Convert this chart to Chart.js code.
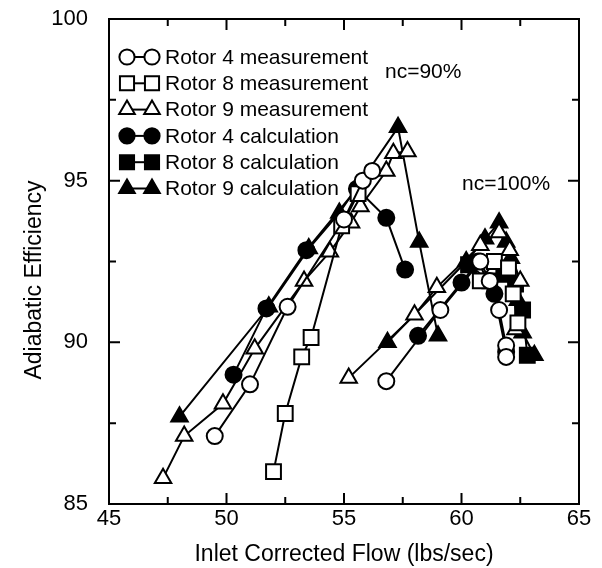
<!DOCTYPE html>
<html>
<head>
<meta charset="utf-8">
<script src="https://cdn.jsdelivr.net/npm/chart.js@4/dist/chart.umd.min.js"></script>
<style>
  html, body { margin: 0; padding: 0; background: #fff; }
  #wrap { width: 602px; height: 568px; }
</style>
</head>
<body>
<div id="wrap"><canvas id="chart" width="602" height="568"></canvas></div>
<script>
// [flow, efficiency] pairs, one array per rotor and speed line
var r4Meas90 = [[49.5, 87.1], [51.0, 88.7], [52.6, 91.1], [55.0, 93.8], [55.8, 95.0], [56.2, 95.3]];
var r4Meas100 = [[56.8, 88.8], [59.1, 91.0], [60.8, 92.5], [61.2, 91.9], [61.6, 91.0], [61.9, 89.9], [61.9, 89.55]];
var r8Meas90 = [[52.0, 86.0], [52.5, 87.8], [53.2, 89.55], [53.6, 90.15], [54.9, 93.6], [55.6, 94.6]];
var r8Meas100 = [[60.8, 91.9], [61.4, 92.5], [62.0, 92.3], [62.2, 91.5], [62.4, 90.6]];
var r9Meas90 = [[47.3, 85.8], [48.2, 87.1], [49.85, 88.1], [51.2, 89.8], [53.3, 91.9], [54.4, 92.8], [55.3, 93.7], [55.7, 94.2], [56.8, 95.3], [57.1, 95.85], [57.7, 95.9]];
var r9Meas100 = [[55.2, 88.9], [58.0, 90.85], [58.95, 91.7], [60.8, 93.0], [61.6, 93.4], [62.05, 92.85], [62.5, 91.9], [62.3, 90.4]];
var r4Calc90 = [[50.3, 89.0], [51.7, 91.05], [53.4, 92.85], [55.55, 94.75], [56.8, 93.85], [57.6, 92.25]];
var r4Calc100 = [[58.15, 90.2], [60.0, 91.85], [60.7, 92.5], [61.4, 91.5], [61.9, 89.7]];
var r8Calc100 = [[60.3, 92.4], [61.2, 91.9], [61.8, 92.1], [62.3, 91.8], [62.6, 91.0], [62.8, 89.6]];
var r9Calc90 = [[48.0, 87.7], [51.8, 91.1], [53.5, 92.9], [54.8, 94.0], [57.3, 96.65], [58.2, 93.1], [59.0, 90.2]];
var r9Calc100 = [[56.85, 90.0], [60.2, 92.5], [61.0, 93.2], [61.6, 93.7], [61.9, 93.1], [62.1, 92.6], [62.4, 91.3], [62.6, 90.3], [63.1, 89.6]];

var legendNames = ['Rotor 4 measurement', 'Rotor 8 measurement', 'Rotor 9 measurement',
  'Rotor 4 calculation', 'Rotor 8 calculation', 'Rotor 9 calculation'];
var styles = [
  { pointStyle: 'circle', fill: '#fff', radius: 8 },
  { pointStyle: 'rect', fill: '#fff', radius: 10.5 },
  { pointStyle: 'triangle', fill: '#fff', radius: 9.5 },
  { pointStyle: 'circle', fill: '#000', radius: 8 },
  { pointStyle: 'rect', fill: '#000', radius: 10.5 },
  { pointStyle: 'triangle', fill: '#000', radius: 9.5 }
];
var series = [
  [0, r4Meas90], [0, r4Meas100], [1, r8Meas90], [1, r8Meas100], [2, r9Meas90], [2, r9Meas100],
  [3, r4Calc90], [3, r4Calc100], [4, r8Calc100], [5, r9Calc90], [5, r9Calc100]
];

var FONT = '"Liberation Sans", Arial, sans-serif';

function toPts(arr) {
  return arr.map(function (p) { return { x: p[0], y: p[1] }; });
}

var datasets = series.map(function (s) {
  var st = styles[s[0]];
  return {
    label: legendNames[s[0]],
    data: toPts(s[1]),
    showLine: true,
    borderColor: '#000',
    borderWidth: 2,
    pointStyle: st.pointStyle,
    pointRadius: st.radius,
    pointBackgroundColor: st.fill,
    pointBorderColor: '#000',
    pointBorderWidth: 2
  };
});

// frame, inward ticks, titles, legend and speed labels
var decor = {
  id: 'decor',
  afterDraw: function (chart) {
    var c = chart.ctx, a = chart.chartArea;
    var xs = chart.scales.x, ys = chart.scales.y;
    c.save();
    c.strokeStyle = '#000';
    c.lineWidth = 2;
    c.strokeRect(a.left, a.top, a.right - a.left, a.bottom - a.top);
    var v, len;
    for (v = 45; v <= 65; v += 2.5) {
      var px = xs.getPixelForValue(v);
      len = (v % 5 === 0) ? 11 : 7;
      c.beginPath();
      c.moveTo(px, a.bottom); c.lineTo(px, a.bottom - len);
      c.moveTo(px, a.top); c.lineTo(px, a.top + len);
      c.stroke();
    }
    for (v = 85; v <= 100; v += 2.5) {
      var py = ys.getPixelForValue(v);
      len = (v % 5 === 0) ? 11 : 7;
      c.beginPath();
      c.moveTo(a.left, py); c.lineTo(a.left + len, py);
      c.moveTo(a.right, py); c.lineTo(a.right - len, py);
      c.stroke();
    }
    c.fillStyle = '#000';
    c.textBaseline = 'middle';
    c.textAlign = 'center';
    c.font = '23px ' + FONT;
    c.fillText('Inlet Corrected Flow (lbs/sec)', (a.left + a.right) / 2, 555);
    c.save();
    c.translate(35, 280);
    c.rotate(-Math.PI / 2);
    c.fillText('Adiabatic Efficiency', 0, 0);
    c.restore();

    // legend inside the plot
    var lx1 = a.left + 18, lx2 = a.left + 43, tx = a.left + 56, ly = a.top + 38;
    c.font = '21px ' + FONT;
    c.textAlign = 'left';
    for (var i = 0; i < legendNames.length; i++) {
      var st = styles[i];
      var y = ly + i * 26.3;
      c.beginPath();
      c.moveTo(lx1, y); c.lineTo(lx2, y);
      c.lineWidth = 2;
      c.stroke();
      var r = st.radius * 0.95;
      c.fillStyle = st.fill;
      Chart.helpers.drawPoint(c, { pointStyle: st.pointStyle, radius: r, rotation: 0, borderWidth: 2 }, lx1, y);
      c.fillStyle = st.fill;
      Chart.helpers.drawPoint(c, { pointStyle: st.pointStyle, radius: r, rotation: 0, borderWidth: 2 }, lx2, y);
      c.fillStyle = '#000';
      c.fillText(legendNames[i], tx, y + 1);
    }
    c.fillText('nc=90%', a.left + 276, a.top + 53);
    c.fillText('nc=100%', a.left + 353, a.top + 165);
    c.restore();
  }
};

new Chart(document.getElementById('chart').getContext('2d'), {
  type: 'scatter',
  data: { datasets: datasets },
  plugins: [decor],
  options: {
    responsive: false,
    animation: false,
    layout: { padding: { top: 19, right: 23, left: 0, bottom: 0 } },
    plugins: { legend: { display: false }, tooltip: { enabled: false } },
    scales: {
      x: {
        min: 45, max: 65,
        grid: { display: false, drawTicks: false },
        border: { display: false },
        ticks: {
          stepSize: 2.5, color: '#000', font: { size: 22, family: FONT }, padding: 2,
          maxRotation: 0, autoSkip: false,
          callback: function (v) { return v % 5 === 0 ? v : ''; }
        },
        afterFit: function (s) { s.height = 64; s.paddingLeft = 0; s.paddingRight = 0; }
      },
      y: {
        min: 85, max: 100,
        grid: { display: false, drawTicks: false },
        border: { display: false },
        ticks: {
          stepSize: 2.5, color: '#000', font: { size: 22, family: FONT }, padding: 21,
          autoSkip: false,
          callback: function (v) { return v % 5 === 0 ? v : ''; }
        },
        afterFit: function (s) { s.width = 109; s.paddingTop = 0; s.paddingBottom = 0; }
      }
    }
  }
});
</script>
</body>
</html>
